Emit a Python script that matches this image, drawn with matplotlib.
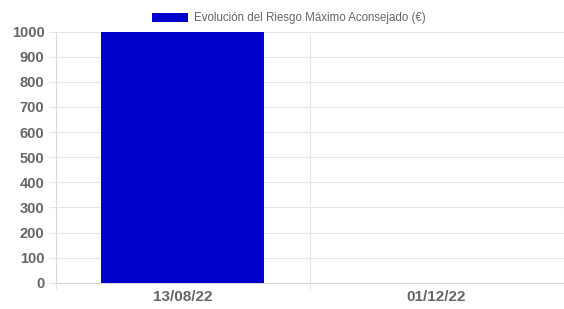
import matplotlib.pyplot as plt
from matplotlib.ticker import FixedLocator

# data
fechas = ['13/08/22', '01/12/22']
riesgo = [1000, 0]
serie = 'Evolución del Riesgo Máximo Aconsejado (€)'

grid_col = '#e6e6e6'
txt_col = '#666666'

plt.rcParams['font.family'] = ['Liberation Sans', 'DejaVu Sans']

fig = plt.figure(figsize=(5.64, 3.09), dpi=100)
ax = fig.add_axes([55.5 / 564, 1 - 282.7 / 309, (563.5 - 55.5) / 564, (282.7 - 31.7) / 309])

x = range(len(fechas))
ax.bar(x, riesgo, width=0.64, color='#0000cc', linewidth=0, label=serie, zorder=3)

ax.set_xlim(-0.5, len(fechas) - 0.5)
ax.set_ylim(0, 1000)
ax.set_yticks(range(0, 1001, 100))
ax.set_xticks(list(x))
ax.set_xticklabels(fechas)

# vertical grid lines sit between the categories
ax.xaxis.set_minor_locator(FixedLocator([-0.5, 0.5, 1.5]))
ax.grid(axis='y', which='major', color=grid_col, linewidth=0.8, zorder=0)
ax.grid(axis='x', which='minor', color=grid_col, linewidth=0.8, zorder=0)

ax.tick_params(axis='y', which='major', length=5, color=grid_col, width=0.8,
               labelsize=10.5, labelcolor=txt_col, pad=3)
ax.tick_params(axis='x', which='major', length=0, labelsize=11, labelcolor=txt_col, pad=5)
ax.tick_params(axis='x', which='minor', length=5, color=grid_col, width=0.8)
for lab in ax.get_yticklabels() + ax.get_xticklabels():
    lab.set_fontweight('bold')

for s in ['top', 'right']:
    ax.spines[s].set_visible(False)
for s in ['left', 'bottom']:
    ax.spines[s].set_color('#d9d9d9')
    ax.spines[s].set_linewidth(0.8)

fig.legend(loc='center', bbox_to_anchor=(289 / 564, 1 - 18.5 / 309), frameon=False,
           fontsize=8.3, labelcolor=txt_col, handlelength=3.1, handleheight=0.9,
           handletextpad=0.55, borderpad=0)

fig.savefig('out.png', dpi=100)
